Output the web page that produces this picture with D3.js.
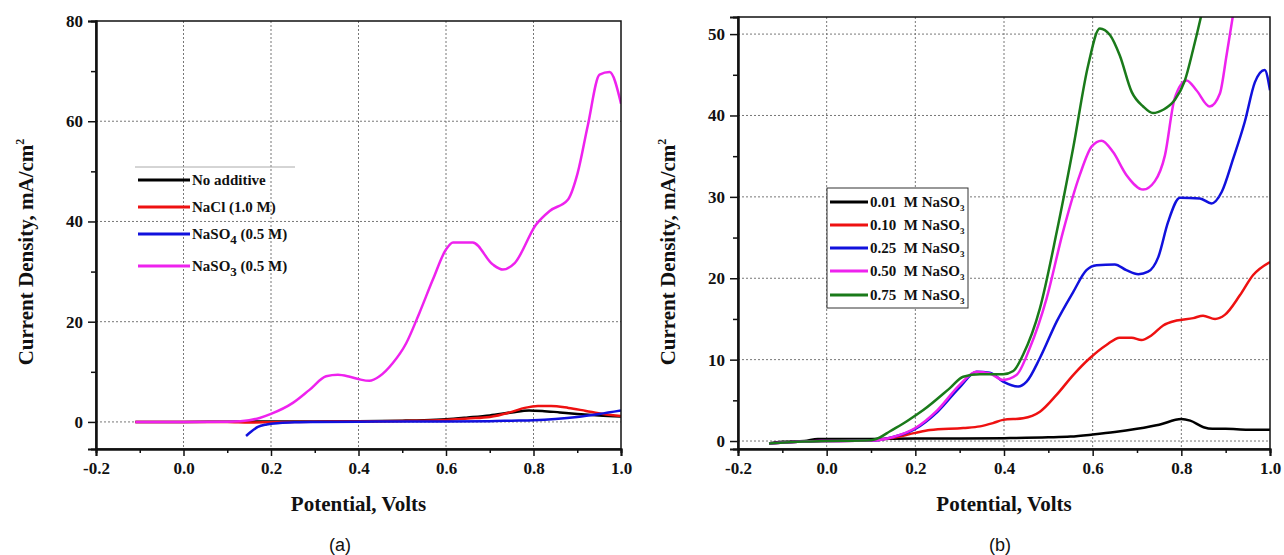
<!DOCTYPE html>
<html>
<head>
<meta charset="utf-8">
<script src="https://cdn.jsdelivr.net/npm/d3@7"></script>
<style>
  body { margin: 0; background: #fff; }
  svg text { font-family: "Liberation Serif", "Times New Roman", serif; font-weight: bold; fill: #111; }
  .panel-tag { font-family: "Liberation Sans", Arial, sans-serif !important; font-weight: normal !important; }
</style>
</head>
<body>
<svg id="chart" width="1284" height="555"></svg>
<script>
// ---- data ----
// panel (a): additives
const noAdditive = [[-0.11,0],[0.0,0],[0.1,0.05],[0.2,0.1],[0.3,0.1],[0.4,0.15],[0.5,0.25],[0.55,0.35],[0.6,0.55],[0.65,0.9],[0.7,1.3],[0.75,1.9],[0.79,2.3],[0.82,2.2],[0.86,1.9],[0.9,1.6],[0.95,1.3],[1.0,1.1]];
const naclAdd = [[-0.11,0],[0.0,0],[0.1,0],[0.15,-0.1],[0.2,-0.05],[0.3,0.05],[0.4,0.1],[0.5,0.2],[0.6,0.4],[0.65,0.7],[0.7,1.0],[0.75,2.0],[0.78,2.8],[0.81,3.2],[0.84,3.2],[0.88,2.8],[0.92,2.2],[0.96,1.6],[1.0,1.2]];
const naso4Add = [[0.143,-2.8],[0.155,-1.9],[0.17,-1.0],[0.19,-0.5],[0.22,-0.2],[0.26,-0.05],[0.3,0],[0.4,0.05],[0.5,0.1],[0.6,0.1],[0.7,0.15],[0.75,0.25],[0.8,0.35],[0.85,0.6],[0.9,1.0],[0.95,1.6],[1.0,2.3]];
const naso3Add = [[-0.11,0],[0.0,0],[0.1,0.05],[0.13,0.15],[0.15,0.35],[0.174,0.8],[0.2,1.6],[0.25,3.8],[0.288,6.4],[0.326,9.1],[0.353,9.4],[0.38,9.0],[0.402,8.5],[0.425,8.2],[0.448,9.1],[0.478,11.7],[0.509,15.7],[0.539,21.7],[0.57,28.4],[0.6,34.4],[0.616,35.8],[0.661,35.8],[0.707,31.4],[0.73,30.4],[0.757,31.7],[0.806,39.4],[0.837,42.1],[0.879,44.4],[0.901,49.7],[0.924,59.1],[0.951,69.3],[0.974,69.8],[1.0,63.5]];
const labelsA = ["No additive", "NaCl (1.0 M)", "NaSO|4| (0.5 M)", "NaSO|3| (0.5 M)"];
const coloursA = ["#000000", "#ee1111", "#1111dd", "#ee22ee"];

// panel (b): NaSO3 concentration
const conc001 = [[-0.13,-0.3],[-0.1,-0.1],[-0.05,0],[-0.02,0.25],[0.1,0.25],[0.2,0.3],[0.3,0.3],[0.4,0.35],[0.5,0.45],[0.55,0.55],[0.6,0.8],[0.65,1.1],[0.7,1.5],[0.75,2.0],[0.8,2.7],[0.82,2.5],[0.85,1.7],[0.87,1.5],[0.9,1.5],[0.95,1.4],[1.0,1.4]];
const conc010 = [[-0.13,-0.3],[-0.05,-0.05],[0,0],[0.1,0.05],[0.15,0.4],[0.2,1.0],[0.233,1.35],[0.308,1.6],[0.346,1.8],[0.375,2.2],[0.398,2.6],[0.443,2.8],[0.481,3.6],[0.519,5.7],[0.556,8.1],[0.594,10.2],[0.631,11.8],[0.661,12.7],[0.688,12.7],[0.71,12.4],[0.733,13],[0.759,14.2],[0.789,14.8],[0.827,15.1],[0.849,15.4],[0.876,15],[0.898,15.5],[0.932,17.9],[0.962,20.4],[1.0,22]];
const conc025 = [[-0.13,-0.3],[-0.05,-0.05],[0,0],[0.1,0.05],[0.15,0.5],[0.2,1.5],[0.25,3.6],[0.3,6.6],[0.338,8.5],[0.368,8.4],[0.398,7.3],[0.432,6.7],[0.451,7.3],[0.481,10.2],[0.519,14.7],[0.556,18.3],[0.586,21],[0.609,21.6],[0.65,21.7],[0.676,21],[0.703,20.5],[0.725,20.8],[0.748,22.6],[0.77,26.9],[0.797,29.9],[0.842,29.8],[0.868,29.2],[0.891,30.6],[0.917,34.7],[0.943,39.2],[0.966,44.1],[0.988,45.6],[1.0,43.1]];
const conc050 = [[-0.13,-0.3],[-0.05,-0.05],[0,0],[0.1,0.05],[0.15,0.5],[0.2,1.6],[0.25,3.8],[0.3,6.9],[0.338,8.5],[0.368,8.3],[0.398,7.5],[0.428,8.1],[0.458,11.4],[0.496,17.5],[0.533,25.7],[0.571,32.7],[0.598,36.2],[0.62,36.9],[0.646,35.5],[0.676,32.7],[0.714,30.9],[0.74,31.9],[0.763,35.1],[0.785,42.1],[0.812,44.3],[0.834,43.1],[0.864,41.1],[0.887,42.7],[0.902,47.4],[0.917,52.5],[0.93,57]];
const conc075 = [[-0.13,-0.3],[-0.05,-0.05],[0,0],[0.1,0.1],[0.12,0.45],[0.143,1.2],[0.18,2.4],[0.218,3.8],[0.278,6.5],[0.308,7.9],[0.346,8.2],[0.398,8.2],[0.421,8.6],[0.443,10.6],[0.481,16.3],[0.519,25.7],[0.556,36],[0.59,46.2],[0.616,50.7],[0.639,49.9],[0.661,47.4],[0.688,42.9],[0.714,41.1],[0.736,40.3],[0.759,40.7],[0.785,41.9],[0.808,44.3],[0.827,48.2],[0.845,52.3],[0.86,56]];
const labelsB = ["0.01  M NaSO|3|", "0.10  M NaSO|3|", "0.25  M NaSO|3|", "0.50  M NaSO|3|", "0.75  M NaSO|3|"];
const coloursB = ["#000000", "#ee1111", "#1111dd", "#ee22ee", "#1a7a1a"];

// ticks
const xTicks = [-0.2, 0.0, 0.2, 0.4, 0.6, 0.8, 1.0];
const xTickLabels = ["-0.2", "0.0", "0.2", "0.4", "0.6", "0.8", "1.0"];
const xMinor = [-0.1, 0.1, 0.3, 0.5, 0.7, 0.9];
const yTicksA = [0, 20, 40, 60, 80];
const yMinorA = [10, 30, 50, 70];
const yTicksB = [0, 10, 20, 30, 40, 50];
const yMinorB = [5, 15, 25, 35, 45];

const svg = d3.select("#chart");

function drawPanel(cfg) {
  const x = d3.scaleLinear().domain([-0.2, 1.0]).range([cfg.left, cfg.right]);
  const y = d3.scaleLinear().domain(cfg.yDomain).range([cfg.bottom, cfg.top]);
  const g = svg.append("g");

  // dotted grid
  g.append("g").selectAll("line").data(xTicks.slice(1, -1)).join("line")
    .attr("x1", d => x(d)).attr("x2", d => x(d))
    .attr("y1", cfg.top).attr("y2", cfg.bottom)
    .attr("stroke", "#777").attr("stroke-width", 1).attr("stroke-dasharray", "2,2");
  g.append("g").selectAll("line").data(cfg.yTicks.filter(d => y(d) > cfg.top + 1)).join("line")
    .attr("x1", cfg.left).attr("x2", cfg.right)
    .attr("y1", d => y(d)).attr("y2", d => y(d))
    .attr("stroke", "#777").attr("stroke-width", 1).attr("stroke-dasharray", "2,2");

  // curves
  const clipId = "clip" + cfg.id;
  g.append("clipPath").attr("id", clipId).append("rect")
    .attr("x", cfg.left).attr("y", cfg.top)
    .attr("width", cfg.right - cfg.left).attr("height", cfg.bottom - cfg.top);
  const line = d3.line().x(d => x(d[0])).y(d => y(d[1])).curve(d3.curveMonotoneX);
  g.append("g").attr("clip-path", `url(#${clipId})`)
    .selectAll("path").data(cfg.series).join("path")
    .attr("d", d => line(d))
    .attr("fill", "none")
    .attr("stroke", (d, i) => cfg.colours[i])
    .attr("stroke-width", 2.5)
    .attr("stroke-linejoin", "round");

  // frame
  g.append("rect").attr("x", cfg.left).attr("y", cfg.top)
    .attr("width", cfg.right - cfg.left).attr("height", cfg.bottom - cfg.top)
    .attr("fill", "none").attr("stroke", "#111").attr("stroke-width", 1.5);

  // axes
  const xAxis = g.append("g").attr("transform", `translate(0,${cfg.bottom})`)
    .call(d3.axisBottom(x).tickValues(xTicks).tickSize(7).tickPadding(6)
      .tickFormat((d, i) => xTickLabels[i]));
  const xAxisMinor = g.append("g").attr("transform", `translate(0,${cfg.bottom})`)
    .call(d3.axisBottom(x).tickValues(xMinor).tickSize(4).tickFormat(""));
  const yAxis = g.append("g").attr("transform", `translate(${cfg.left},0)`)
    .call(d3.axisLeft(y).tickValues(cfg.yTicks).tickSize(8).tickPadding(5));
  const yAxisMinor = g.append("g").attr("transform", `translate(${cfg.left},0)`)
    .call(d3.axisLeft(y).tickValues(cfg.yMinor).tickSize(5).tickFormat(""));
  [xAxis, xAxisMinor, yAxis, yAxisMinor].forEach(a => {
    a.select(".domain").attr("stroke", "#111").attr("stroke-width", 2);
    a.selectAll(".tick line").attr("stroke", "#111").attr("stroke-width", 1.5);
    a.selectAll("text").attr("font-family", null).attr("font-size", 17).attr("fill", "#111");
  });

  // axis titles
  g.append("text")
    .attr("x", (cfg.left + cfg.right) / 2).attr("y", 511)
    .attr("text-anchor", "middle").attr("font-size", 21)
    .text("Potential, Volts");
  const yt = g.append("text")
    .attr("transform", `translate(${cfg.left - 63},252) rotate(-90)`)
    .attr("text-anchor", "middle").attr("font-size", 21);
  yt.append("tspan").text("Current Density, mA/cm");
  yt.append("tspan").attr("dy", -9).attr("font-size", 12).text("2");

  g.append("text").attr("class", "panel-tag")
    .attr("x", cfg.tagX).attr("y", 551)
    .attr("text-anchor", "middle").attr("font-size", 18)
    .text(cfg.tag);

  // legend
  const lg = cfg.legend;
  const lgG = g.append("g");
  if (lg.box) {
    lgG.append("rect").attr("x", lg.box[0]).attr("y", lg.box[1])
      .attr("width", lg.box[2]).attr("height", lg.box[3])
      .attr("fill", "#fff").attr("stroke", "#333").attr("stroke-width", 1);
  } else {
    lgG.append("line").attr("x1", lg.topLine[0]).attr("x2", lg.topLine[1])
      .attr("y1", lg.topLine[2]).attr("y2", lg.topLine[2])
      .attr("stroke", "#aaa").attr("stroke-width", 1);
  }
  cfg.labels.forEach((lab, i) => {
    const ly = lg.rows[i];
    lgG.append("line").attr("x1", lg.x1).attr("x2", lg.x2)
      .attr("y1", ly).attr("y2", ly)
      .attr("stroke", cfg.colours[i]).attr("stroke-width", 3);
    const t = lgG.append("text").attr("x", lg.x2 + 2).attr("y", ly + 5)
      .attr("font-size", 15).attr("xml:space", "preserve");
    lab.split("|").forEach((part, k) => {
      if (k % 2 === 1) {
        t.append("tspan").attr("dy", lg.subDy).attr("font-size", lg.subSize).text(part);
      } else {
        t.append("tspan").attr("dy", k === 0 ? 0 : -lg.subDy).text(part);
      }
    });
  });
}

drawPanel({
  id: "a", tag: "(a)", tagX: 340,
  left: 96, right: 621, top: 21, bottom: 449,
  yDomain: [-5.4, 80], yTicks: yTicksA, yMinor: yMinorA,
  series: [noAdditive, naclAdd, naso4Add, naso3Add],
  colours: coloursA, labels: labelsA,
  legend: { topLine: [135, 295, 167], rows: [180, 207, 234, 266], x1: 138, x2: 190, subDy: 5, subSize: 13 }
});

drawPanel({
  id: "b", tag: "(b)", tagX: 1000,
  left: 738, right: 1270, top: 17, bottom: 449,
  yDomain: [-0.98, 52.1], yTicks: yTicksB, yMinor: yMinorB,
  series: [conc001, conc010, conc025, conc050, conc075],
  colours: coloursB, labels: labelsB,
  legend: { box: [827, 188, 141, 120], rows: [202, 225, 248, 271, 295], x1: 830, x2: 868, subDy: 4, subSize: 9 }
});
</script>
</body>
</html>
